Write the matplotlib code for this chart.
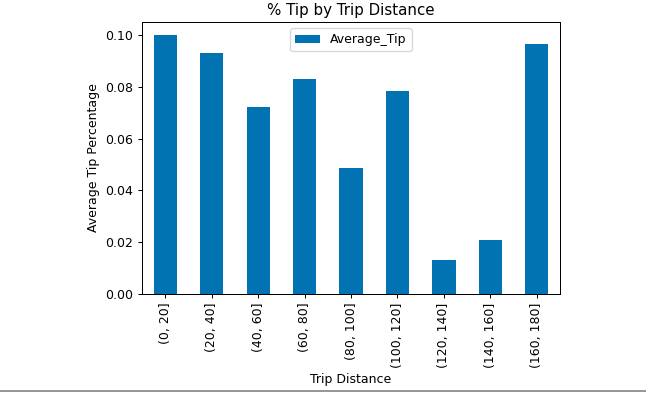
import matplotlib
matplotlib.use('Agg')
import matplotlib.pyplot as plt
from matplotlib.lines import Line2D
import pandas as pd

# values
bins = ['(0, 20]', '(20, 40]', '(40, 60]', '(60, 80]', '(80, 100]',
        '(100, 120]', '(120, 140]', '(140, 160]', '(160, 180]']
avg_tip = [0.1000, 0.0932, 0.0723, 0.0830, 0.0487, 0.0782, 0.0131, 0.0208, 0.0965]

df = pd.DataFrame({'Average_Tip': avg_tip}, index=bins)

dpi = 90
fig = plt.figure(figsize=(646/dpi, 394/dpi), dpi=dpi)
ax = fig.add_axes([0.2198, 0.2538, 0.6472, 0.6902])
df.plot(kind='bar', ax=ax, color='#0173b2')
ax.set_title('% Tip by Trip Distance')
ax.set_xlabel('Trip Distance')
ax.set_ylabel('Average Tip Percentage')
ax.legend(loc='upper center')

# thin separator line at the bottom of the notebook cell
fig.add_artist(Line2D([0, 1], [0.008, 0.008], color='#777777', lw=1.2, transform=fig.transFigure))

fig.savefig('out.png', dpi=dpi)
